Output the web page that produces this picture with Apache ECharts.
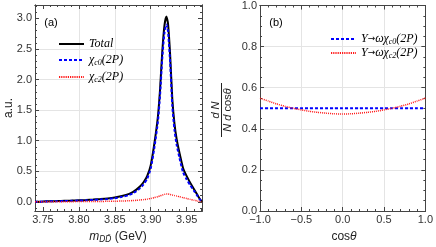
<!DOCTYPE html>
<html><head><meta charset="utf-8">
<script src="https://cdn.jsdelivr.net/npm/echarts@6/dist/echarts.min.js"></script>
<style>html,body{margin:0;padding:0;background:#fff}#c{width:436px;height:247px}</style>
</head><body><div id="c"></div>
<script>
// ---- Panel (a): invariant mass distribution ----
const massX  = [3.739,3.75,3.76,3.77,3.78,3.79,3.80,3.81,3.82,3.83,3.84,3.85,3.86,3.87,3.875,3.88,3.885,3.89,3.895,3.90,3.905,3.91,3.913,3.916,3.919,3.9218,3.924,3.927,3.93,3.933,3.936,3.94,3.945,3.95,3.955,3.96,3.965,3.968,3.9713];
const totalY = [0.0,0.005,0.01,0.012,0.016,0.02,0.025,0.03,0.037,0.045,0.055,0.07,0.095,0.13,0.16,0.2,0.25,0.32,0.42,0.6,0.95,1.4,1.85,2.45,2.88,3.03,2.92,2.4,1.68,1.28,1.03,0.8,0.55,0.42,0.31,0.21,0.11,0.05,0.0];
const chi0Y  = [0.0,0.004,0.008,0.01,0.013,0.017,0.021,0.025,0.031,0.038,0.047,0.06,0.082,0.112,0.139,0.175,0.22,0.284,0.376,0.545,0.882,1.315,1.753,2.34,2.758,2.9,2.793,2.279,1.568,1.177,0.935,0.717,0.482,0.366,0.27,0.183,0.096,0.043,0.0];
const chi2Y  = [0.0,0.001,0.002,0.002,0.003,0.003,0.004,0.005,0.006,0.007,0.008,0.01,0.013,0.018,0.021,0.025,0.03,0.036,0.044,0.055,0.068,0.085,0.097,0.11,0.122,0.128,0.127,0.121,0.112,0.103,0.095,0.083,0.068,0.054,0.04,0.027,0.014,0.007,0.0];
// ---- Panel (b): angular distribution ----
const cosX   = [-1,-0.9,-0.8,-0.7,-0.6,-0.5,-0.4,-0.3,-0.2,-0.1,0,0.1,0.2,0.3,0.4,0.5,0.6,0.7,0.8,0.9,1];
const ychi0Y = [0.5,0.5,0.5,0.5,0.5,0.5,0.5,0.5,0.5,0.5,0.5,0.5,0.5,0.5,0.5,0.5,0.5,0.5,0.5,0.5,0.5];
const ychi2Y = [0.549,0.535,0.521,0.510,0.500,0.492,0.485,0.480,0.476,0.473,0.472,0.473,0.476,0.480,0.485,0.492,0.500,0.510,0.521,0.535,0.549];
// ---- tick labels ----
const massTicks = [3.75,3.80,3.85,3.90,3.95];
const auTicks   = [0,0.5,1.0,1.5,2.0,2.5,3.0];
const cosTicks  = [-1,-0.5,0,0.5,1];
const distTicks = [0,0.2,0.4,0.6,0.8,1.0];
const legendA = ['Total','χc0(2P)','χc2(2P)'];
const legendB = ['Y→ωχc0(2P)','Y→ωχc2(2P)'];

function range(a,b,s){const r=[];for(let k=0;a+k*s<=b+1e-9;k++)r.push(+(a+k*s).toFixed(4));return r;}
const massMinor = range(3.74,3.97,0.01);
const auMinor   = range(-0.1,3.2,0.1);
const cosMinor  = range(-1,1,0.1);
const distMinor = range(0,1,0.05);

const FRAME = '#444';
const LBL = {color:'#333', fontSize:11, fontFamily:'Liberation Sans'};
function mkAxes(dim, grid, min, max, major, minor, fmt){
  const pA = dim==='x'?'bottom':'left', pB = dim==='x'?'top':'right';
  const base = (pos, ticks, len, main) => ({
    type:'value', gridIndex:grid, min:min, max:max, position:pos,
    axisLine:{show:true, onZero:false, lineStyle:{color:FRAME, width:1}},
    axisTick:{show:true, inside:true, length:len, customValues:ticks, lineStyle:{color:FRAME, width:1}},
    axisLabel: main ? Object.assign({show:true, customValues:major, formatter:fmt, margin:3}, LBL) : {show:false},
    splitLine: main ? {show:true, showMinLine:false, showMaxLine:false, lineStyle:{color:'#e4e4e4', width:1}} : {show:false},
    minorTick:{show:false}, minorSplitLine:{show:false}, axisPointer:{show:false}
  });
  return [base(pA, major, 4, true), base(pA, minor, 2, false), base(pB, major, 4, false), base(pB, minor, 2, false)];
}
const f2 = v => v.toFixed(2);
const f1 = v => v.toFixed(1);
const fs = v => (v < 0 ? '\u2212' : '') + Math.abs(v).toFixed(1);

const xAxes = mkAxes('x',0,3.739,3.9713,massTicks,massMinor,f2).concat(mkAxes('x',1,-1,1,cosTicks,cosMinor,fs));
const yAxes = mkAxes('y',0,-0.15,3.22,auTicks,auMinor,f1).concat(mkAxes('y',1,0,1,distTicks,distMinor,f1));

const RICH_TXT = {
  'Total':'{it|Total}',
  'χc0(2P)':'{it|χ}{sub|c0}{it|(2P)}',
  'χc2(2P)':'{it|χ}{sub|c2}{it|(2P)}',
  'Y→ωχc0(2P)':'{it|Y}{ar|→}{it|ωχ}{sub|c0}{it|(2P)}',
  'Y→ωχc2(2P)':'{it|Y}{ar|→}{it|ωχ}{sub|c2}{it|(2P)}'
};
const legRich = {
  it:{fontFamily:'Liberation Serif', fontStyle:'italic', fontSize:12, lineHeight:14, color:'#000'},
  ar:{fontFamily:'DejaVu Sans', fontSize:9, lineHeight:14, color:'#000'},
  sub:{fontFamily:'Liberation Serif', fontStyle:'italic', fontSize:8, lineHeight:8, verticalAlign:'bottom', color:'#000'}
};
const STY = {
  'Total':{color:'#000', width:2, type:'solid'},
  'χc0(2P)':{color:'#0000ff', width:2, type:[3,2]},
  'χc2(2P)':{color:'#ff1a1a', width:1.5, type:[1,1]},
  'Y→ωχc0(2P)':{color:'#0000ff', width:2, type:[3,2]},
  'Y→ωχc2(2P)':{color:'#ff1a1a', width:1.5, type:[1,1]}
};
function pairs(xs, ys){ return xs.map((x,i)=>[x, ys[i]]); }
function line(name, xi, yi, xs, ys){
  const s = STY[name];
  return {type:'line', name:name, xAxisIndex:xi, yAxisIndex:yi, data:pairs(xs,ys), symbol:'none', showSymbol:false,
    smooth:0.2, clip:true, lineStyle:{color:s.color, width:s.width, type:s.type}, itemStyle:{color:s.color}};
}
const legItems = names => names.map(n => ({name:n, itemStyle:{opacity:0, color:STY[n].color},
  lineStyle:{color:STY[n].color, width:2, type:(STY[n].type === 'solid' ? 'solid' : (STY[n].width < 2 ? [1.2,1] : [3,2])), opacity:1}}));
const sans = 'Liberation Sans';
const option = {
  animation:false,
  grid:[{left:35, top:5, width:167, height:206},{left:260, top:5, width:168, height:206}],
  xAxis:xAxes, yAxis:yAxes,
  legend:[
    {data:legItems(legendA), orient:'vertical', left:53, top:33, itemWidth:25, itemHeight:14, itemGap:4,
     formatter:n=>RICH_TXT[n], textStyle:{rich:legRich}, selectedMode:false},
    {data:legItems(legendB), orient:'vertical', left:325, top:28, itemWidth:25, itemHeight:14, itemGap:1,
     formatter:n=>RICH_TXT[n], textStyle:{rich:legRich}, selectedMode:false}
  ],
  series:[
    line('Total',0,0,massX,totalY),
    line('χc0(2P)',0,0,massX,chi0Y),
    line('χc2(2P)',0,0,massX,chi2Y),
    line('Y→ωχc0(2P)',4,4,cosX,ychi0Y),
    line('Y→ωχc2(2P)',4,4,cosX,ychi2Y)
  ],
  graphic:[
    {type:'text', x:51, y:23, style:{text:'(a)', font:'11px '+sans, fill:'#000', align:'center', verticalAlign:'middle'}},
    {type:'text', x:276, y:23, style:{text:'(b)', font:'11px '+sans, fill:'#000', align:'center', verticalAlign:'middle'}},
    {type:'text', x:9, y:108, rotation:Math.PI/2, style:{text:'a.u.', font:'12px '+sans, fill:'#222', align:'center', verticalAlign:'middle'}},
    {type:'text', x:118, y:237, style:{text:'{i|m}{s|DD\u0304}{r| (GeV)}', align:'center', verticalAlign:'middle',
      rich:{i:{fontFamily:sans, fontStyle:'italic', fontSize:12, lineHeight:14, fill:'#222'},
            s:{fontFamily:'DejaVu Sans', fontStyle:'italic', fontSize:8, lineHeight:8, verticalAlign:'bottom', fill:'#222'},
            r:{fontFamily:sans, fontSize:12, lineHeight:14, fill:'#222'}}}},
    {type:'text', x:344, y:237, style:{text:'{r|cos}{i|θ}', align:'center', verticalAlign:'middle',
      rich:{i:{fontFamily:sans, fontStyle:'italic', fontSize:12, lineHeight:14, fill:'#222'},
            r:{fontFamily:sans, fontSize:12, lineHeight:14, fill:'#222'}}}},
    {type:'group', x:221.5, y:110, rotation:Math.PI/2, children:[
      {type:'text', x:0, y:-5.5, style:{text:'d N', font:'italic 11px '+sans, fill:'#222', align:'center', verticalAlign:'middle'}},
      {type:'line', shape:{x1:-27, y1:0, x2:27, y2:0}, style:{stroke:'#222', lineWidth:1}},
      {type:'text', x:0, y:6.5, style:{text:'{i|N d }{r|cos}{i|θ}', align:'center', verticalAlign:'middle',
        rich:{i:{fontFamily:sans, fontStyle:'italic', fontSize:11, lineHeight:13, fill:'#222'},
              r:{fontFamily:sans, fontSize:11, lineHeight:13, fill:'#222'}}}}
    ]}
  ]
};
const chart = echarts.init(document.getElementById('c'), null, {renderer:'canvas'});
chart.setOption(option);
</script></body></html>
